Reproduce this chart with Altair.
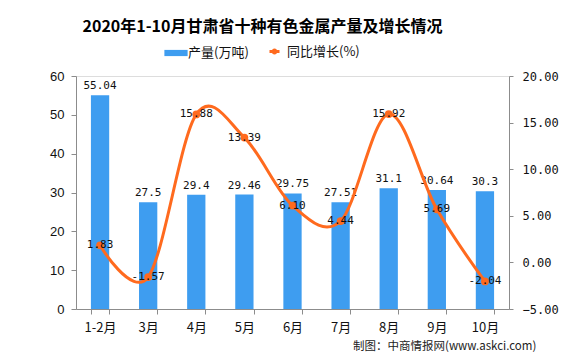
import altair as alt
import pandas as pd

months = ["1-2月", "3月", "4月", "5月", "6月", "7月", "8月", "9月", "10月"]
output = [55.04, 27.5, 29.4, 29.46, 29.75, 27.51, 31.1, 30.64, 30.3]
output_labels = ["55.04", "27.5", "29.4", "29.46", "29.75", "27.51", "31.1", "30.64", "30.3"]
growth = [1.83, -1.57, 15.88, 13.39, 6.10, 4.44, 15.92, 5.69, -2.04]
growth_labels = ["1.83", "-1.57", "15.88", "13.39", "6.10", "4.44", "15.92", "5.69", "-2.04"]
left_ticks = [0, 10, 20, 30, 40, 50, 60]
right_ticks = [-5, 0, 5, 10, 15, 20]

BLUE = "#3E9DF0"
ORANGE = "#FF6A1E"
AXIS = "#8c8c8c"

df = pd.DataFrame({
    "月份": months,
    "产量": output,
    "产量标签": output_labels,
    "增长": growth,
    "增长标签": growth_labels,
    "s1": "产量(万吨)",
    "s2": "同比增长(%)",
})

x = alt.X(
    "月份:N", sort=months,
    scale=alt.Scale(paddingInner=0.62, paddingOuter=0.31),
    axis=alt.Axis(title=None, labelAngle=0, tickBand="extent", tickSize=5,
                  labelPadding=7, labelFont="Noto Sans CJK SC", labelFontSize=13,
                  labelColor="#111", domainColor=AXIS, tickColor=AXIS),
)

yl = alt.Y("产量:Q", scale=alt.Scale(domain=[0, 60]),
           axis=alt.Axis(title=None, values=left_ticks, grid=False, tickSize=5,
                         labelPadding=7, labelFont="Liberation Sans", labelFontSize=13,
                         labelColor="#111", domainColor=AXIS, tickColor=AXIS))

yr = alt.Y("增长:Q", scale=alt.Scale(domain=[-5, 20]),
           axis=alt.Axis(title=None, orient="right", values=right_ticks, grid=False,
                         format=".2f", tickSize=4, labelPadding=9,
                         labelFont="DejaVu Sans Mono", labelFontSize=12,
                         labelColor="#111", domainColor=AXIS, tickColor=AXIS))

base = alt.Chart(df)

bars = base.mark_bar().encode(
    x=x, y=yl,
    color=alt.Color("s1:N", scale=alt.Scale(range=[BLUE]),
                    legend=alt.Legend(title=None, orient="none", legendX=92, legendY=-31,
                                      symbolType="M-1.5,-0.4H1.5V0.4H-1.5Z", symbolSize=240,
                                      symbolStrokeWidth=0, labelFont="Noto Sans CJK SC",
                                      labelFontSize=13, labelColor="#111", padding=0,
                                      labelOffset=4)),
)
bar_text = base.mark_text(baseline="bottom", dy=-4, font="DejaVu Sans Mono",
                          fontSize=11, color="#111").encode(
    x=x, y=yl, text="产量标签:N")

left = alt.layer(bars, bar_text)

line = base.mark_line(interpolate="cardinal", strokeWidth=3).encode(
    x=x, y=yr,
    stroke=alt.Stroke("s2:N", scale=alt.Scale(range=[ORANGE]),
                      legend=alt.Legend(title=None, orient="none", legendX=192, legendY=-31,
                                        symbolType="M-1,0H1M0.3,0A0.3,0.3 0 1,1 -0.3,0A0.3,0.3 0 1,1 0.3,0",
                                        symbolSize=100, symbolStrokeWidth=3,
                                        symbolFillColor=ORANGE,
                                        labelFont="Noto Sans CJK SC", labelFontSize=13,
                                        labelColor="#111", padding=0, labelOffset=6)),
)
points = base.mark_point(filled=True, size=60, opacity=1, color=ORANGE).encode(x=x, y=yr)
line_text = base.mark_text(baseline="middle", font="DejaVu Sans Mono", fontSize=11,
                           color="#111").encode(x=x, y=yr, text="增长标签:N")

right = alt.layer(line, points, line_text)

source = alt.Chart(pd.DataFrame({"t": ["制图：中商情报网(www.askci.com)"]})).mark_text(
    align="left", baseline="middle", font="Noto Sans CJK SC", fontSize=11.5, color="#222"
).encode(x=alt.value(277), y=alt.value(271), text="t:N")

chart = alt.layer(left, right, source).resolve_scale(
    y="independent", color="independent", stroke="independent"
).properties(
    width=433, height=233,
    autosize=alt.AutoSizeParams(type="none"),
    padding={"left": 68, "top": 68, "right": 61, "bottom": 43},
    title=alt.TitleParams(
        "2020年1-10月甘肃省十种有色金属产量及增长情况",
        font="Noto Sans CJK SC", fontSize=16, fontWeight="bold", color="#000",
        anchor="middle", dx=-30, offset=10,
    ),
).configure_view(stroke=None).configure(background="white")

chart.save("out.html", embed_options={"renderer": "svg", "actions": False})
